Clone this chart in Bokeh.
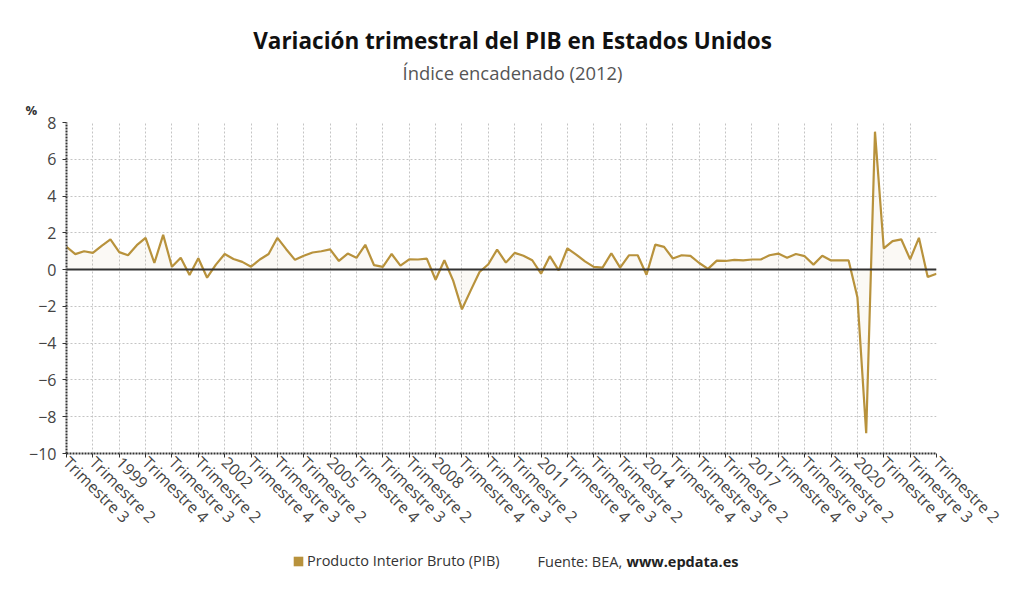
import math
from bokeh.plotting import figure
from bokeh.layouts import column
from bokeh.models import (Label, Span, FixedTicker, Range1d, Legend, LegendItem,
                          ColumnDataSource)
from bokeh.embed import file_html
from bokeh.resources import INLINE

# ---------------- data ----------------
title_text = "Variación trimestral del PIB en Estados Unidos"
subtitle_text = "Índice encadenado (2012)"
unit_text = "%"
series_name = "Producto Interior Bruto (PIB)"
source_text = "Fuente: BEA,"
source_web = "www.epdata.es"

# quarterly % change, 1997 T3 .. 2022 T2
pib = [
    1.24, 0.84, 1.00, 0.91, 1.29, 1.64, 0.95, 0.78, 1.33, 1.73,
    0.36, 1.89, 0.15, 0.65, -0.29, 0.62, -0.44, 0.27, 0.85, 0.58,
    0.42, 0.16, 0.55, 0.85, 1.73, 1.11, 0.53, 0.75, 0.93, 1.00,
    1.10, 0.47, 0.87, 0.64, 1.35, 0.24, 0.15, 0.85, 0.22, 0.56,
    0.55, 0.60, -0.55, 0.51, -0.60, -2.16, -1.13, -0.13, 0.29, 1.09,
    0.38, 0.91, 0.75, 0.51, -0.22, 0.73, -0.04, 1.16, 0.82, 0.45,
    0.15, 0.11, 0.89, 0.11, 0.78, 0.78, -0.28, 1.36, 1.24, 0.60,
    0.78, 0.75, 0.36, 0.04, 0.49, 0.47, 0.53, 0.50, 0.55, 0.55,
    0.78, 0.87, 0.64, 0.85, 0.73, 0.27, 0.75, 0.50, 0.50, 0.50,
    -1.50, -8.90, 7.50, 1.15, 1.55, 1.64, 0.56, 1.73, -0.40, -0.22,
]
quarter_index = list(range(len(pib)))

tick_labels = [
    "Trimestre 3", "Trimestre 2", "1999", "Trimestre 4",
    "Trimestre 3", "Trimestre 2", "2002", "Trimestre 4",
    "Trimestre 3", "Trimestre 2", "2005", "Trimestre 4",
    "Trimestre 3", "Trimestre 2", "2008", "Trimestre 4",
    "Trimestre 3", "Trimestre 2", "2011", "Trimestre 4",
    "Trimestre 3", "Trimestre 2", "2014", "Trimestre 4",
    "Trimestre 3", "Trimestre 2", "2017", "Trimestre 4",
    "Trimestre 3", "Trimestre 2", "2020", "Trimestre 4",
    "Trimestre 3", "Trimestre 2",
]
tick_step = 3
y_ticks = [-10, -8, -6, -4, -2, 0, 2, 4, 6, 8]

# ---------------- style ----------------
FONT = "Open Sans"
GOLD = "#B8923C"
TXT = "#333333"
W = 1008
LEFT, RIGHT = 66, 72
MAIN_TOP = 24
TOP_H, MAIN_H, BOT_H = 122 - MAIN_TOP, MAIN_TOP + 331 + 87, 45


def blank(height):
    # frame spans page pixels LEFT..W-RIGHT (frames are aligned in the column)
    f = figure(width=W, height=height, x_range=Range1d(LEFT, W - RIGHT),
               y_range=Range1d(0, height), output_backend="svg",
               toolbar_location=None, min_border=0,
               min_border_left=LEFT, min_border_right=RIGHT)
    f.axis.visible = False
    f.grid.visible = False
    f.outline_line_color = None
    return f


# ---------- header ----------
top = blank(TOP_H)
top.add_layout(Label(x=512, y=TOP_H - 40, text=title_text, text_font=FONT,
                     text_font_size="22.5px", text_font_style="bold",
                     text_color="#111111", text_align="center", text_baseline="middle"))
top.add_layout(Label(x=512, y=TOP_H - 72, text=subtitle_text, text_font=FONT,
                     text_font_size="18.4px", text_color="#555555",
                     text_align="center", text_baseline="middle"))

# ---------- main chart ----------
p = figure(width=W, height=MAIN_H, output_backend="svg", toolbar_location=None,
           min_border_left=LEFT, min_border_right=RIGHT, min_border_top=MAIN_TOP,
           min_border_bottom=87)
p.x_range = Range1d(quarter_index[0], quarter_index[-1])
p.y_range = Range1d(min(y_ticks), max(y_ticks))
p.outline_line_color = None
p.title.text = unit_text
p.title.align = "left"
p.title.offset = -41
p.title.standoff = 4
p.title.vertical_align = "top"
p.title.text_font = FONT
p.title.text_font_size = "13px"
p.title.text_font_style = "bold"
p.title.text_color = TXT

src = ColumnDataSource(dict(x=quarter_index, y=pib, zero=[0] * len(pib)))
p.varea(x="x", y1="zero", y2="y", source=src, fill_color=GOLD, fill_alpha=0.05)
p.add_layout(Span(location=0, dimension="width", line_color="#333333", line_width=2))
p.line(x="x", y="y", source=src, line_color=GOLD, line_width=2.2)

for g in (p.xgrid, p.ygrid):
    g.grid_line_color = "#c4c4c4"
    g.grid_line_dash = "2 2"
    g.grid_line_width = 1

xt = list(range(0, len(pib), tick_step))
p.xaxis.ticker = FixedTicker(ticks=xt)
p.xaxis.major_label_overrides = {t: lab for t, lab in zip(xt, tick_labels)}
p.xaxis.major_label_orientation = -math.pi / 4
p.yaxis.ticker = FixedTicker(ticks=y_ticks)
for ax in (p.xaxis, p.yaxis):
    ax.axis_line_color = "#333333"
    ax.axis_line_width = 2
    ax.axis_line_dash = "2 1"
    ax.major_tick_line_color = "#333333"
    ax.major_tick_out = 4
    ax.major_tick_in = 0
    ax.minor_tick_line_color = None
    ax.major_label_text_font = FONT
    ax.major_label_text_font_size = "16px"
    ax.major_label_text_color = "#444444"
p.yaxis.major_label_standoff = 6
p.xaxis.major_label_standoff = 2

# ---------- footer ----------
bot = blank(BOT_H)
leg_r = bot.rect(x=[float("nan")], y=[float("nan")], width=1, height=1,
                 fill_color=GOLD, line_color=None)
legend = Legend(items=[LegendItem(label=series_name, renderers=[leg_r])],
                location=(292 - LEFT, 15), orientation="horizontal",
                padding=0, margin=0, spacing=0, glyph_width=12, glyph_height=12,
                label_height=14, label_standoff=3,
                label_text_font=FONT, label_text_font_size="14.5px",
                label_text_color=TXT, border_line_color=None,
                background_fill_alpha=0)
bot.add_layout(legend, "center")
bot.add_layout(Label(x=537, y=BOT_H - 21, text=source_text, text_font=FONT,
                     text_font_size="14.5px", text_color=TXT,
                     text_align="left", text_baseline="middle"))
bot.add_layout(Label(x=626, y=BOT_H - 21, text=source_web, text_font=FONT,
                     text_font_size="14.5px", text_font_style="bold",
                     text_color="#222222", text_align="left", text_baseline="middle"))

layout = column(top, p, bot, spacing=0)
open("out.html", "w").write(file_html(layout, INLINE))
